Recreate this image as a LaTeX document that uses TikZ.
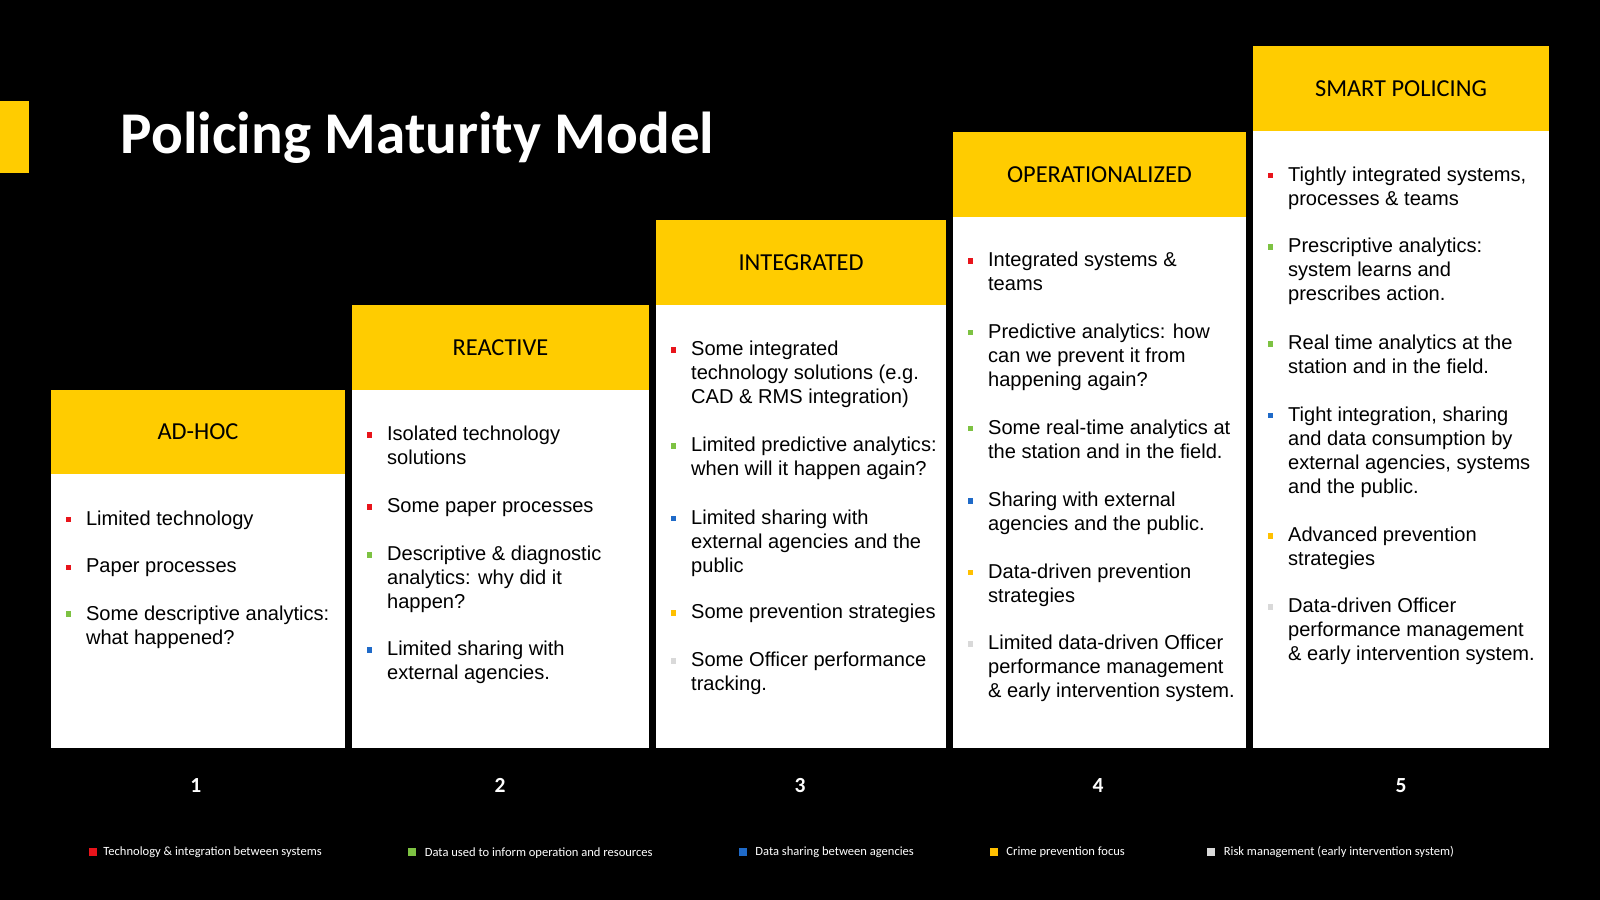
\documentclass[tikz,border=0pt]{standalone}
\usepackage{fontspec}
\setmainfont{Liberation Sans}
\newfontfamily\calib{Carlito}
\definecolor{hdr}{HTML}{FFCC00}
\definecolor{cred}{HTML}{E8141B}
\definecolor{cgreen}{HTML}{7DC242}
\definecolor{cblue}{HTML}{1F6AC8}
\definecolor{corange}{HTML}{FFC000}
\definecolor{cgrey}{HTML}{D9D9D9}
\tikzset{
  hbox/.style={fill=hdr, draw=none, minimum height=1.66cm, inner sep=0, font=\calib\fontsize{13.6}{16}\selectfont, text=black},
  bodybox/.style={fill=white, draw=none},
  bsq/.style={fill=#1, draw=none, minimum size=0.11cm, inner sep=0},
  btxt/.style={anchor=north west, inner sep=0, align=left, font=\fontsize{11.2}{13.4}\selectfont, text=black},
  num/.style={text=white, font=\calib\bfseries\fontsize{12}{14}\selectfont},
  leg/.style={anchor=west, text=white, inner sep=0, font=\calib\fontsize{7}{8}\selectfont},
}
\newcommand\bitem[5]{%
  \node[bsq=#2] (#1s) at (#3+17,#4) {};
  \node[btxt] (#1) at (#3+34,#4-9) {#5};}
\begin{document}
\begin{tikzpicture}[x=0.02cm,y=-0.02cm]
\fill[black] (0,0) rectangle (1568,882);
\useasboundingbox (0,0) rectangle (1568,882);
\fill[hdr] (0,99) rectangle (28,170);
\node[anchor=west, text=white, inner sep=0, font=\calib\bfseries\fontsize{33}{38}\selectfont] (title) at (118,135) {Policing Maturity Model};
% columns
\fill[white] (50,465) rectangle (338,733);
\node[hbox, minimum width=5.76cm] (h1) at (194,423.5) {AD-HOC};
\fill[white] (345,382) rectangle (636,733);
\node[hbox, minimum width=5.82cm] (h2) at (490.5,340.5) {REACTIVE};
\fill[white] (643,299) rectangle (927,733);
\node[hbox, minimum width=5.68cm] (h3) at (785,257.5) {INTEGRATED};
\fill[white] (934,212) rectangle (1221,733);
\node[hbox, minimum width=5.74cm] (h4) at (1077.5,171) {OPERATIONALIZED};
\fill[white] (1228,128) rectangle (1518,733);
\node[hbox, minimum width=5.8cm] (h5) at (1373,86.5) {SMART POLICING};
% col 1
\bitem{a1}{cred}{50}{509}{Limited technology}
\bitem{a2}{cred}{50}{556}{Paper processes}
\bitem{a3}{cgreen}{50}{602}{Some descriptive analytics:\\what happened?}
% col 2
\bitem{b1}{cred}{345}{426}{Isolated technology\\solutions}
\bitem{b2}{cred}{345}{497}{Some paper processes}
\bitem{b3}{cgreen}{345}{544}{Descriptive \& diagnostic\\analytics: why did it\\happen?}
\bitem{b4}{cblue}{345}{637}{Limited sharing with\\external agencies.}
% col 3
\bitem{c1}{cred}{643}{343}{Some integrated\\technology solutions (e.g.\\CAD \& RMS integration)}
\bitem{c2}{cgreen}{643}{437}{Limited predictive analytics:\\when will it happen again?}
\bitem{c3}{cblue}{643}{508}{Limited sharing with\\external agencies and the\\public}
\bitem{c4}{corange}{643}{601}{Some prevention strategies}
\bitem{c5}{cgrey}{643}{648}{Some Officer performance\\tracking.}
% col 4
\bitem{d1}{cred}{934}{256}{Integrated systems \&\\teams}
\bitem{d2}{cgreen}{934}{326}{Predictive analytics: how\\can we prevent it from\\happening again?}
\bitem{d3}{cgreen}{934}{420}{Some real-time analytics at\\the station and in the field.}
\bitem{d4}{cblue}{934}{491}{Sharing with external\\agencies and the public.}
\bitem{d5}{corange}{934}{561}{Data-driven prevention\\strategies}
\bitem{d6}{cgrey}{934}{631}{Limited data-driven Officer\\performance management\\\& early intervention system.}
% col 5
\bitem{e1}{cred}{1228}{172}{Tightly integrated systems,\\processes \& teams}
\bitem{e2}{cgreen}{1228}{242}{Prescriptive analytics:\\system learns and\\prescribes action.}
\bitem{e3}{cgreen}{1228}{337}{Real time analytics at the\\station and in the field.}
\bitem{e4}{cblue}{1228}{407}{Tight integration, sharing\\and data consumption by\\external agencies, systems\\and the public.}
\bitem{e5}{corange}{1228}{525}{Advanced prevention\\strategies}
\bitem{e6}{cgrey}{1228}{595}{Data-driven Officer\\performance management\\\& early intervention system.}
% numbers
\node[num] (n1) at (192,770) {1};
\node[num] (n2) at (490,770) {2};
\node[num] (n3) at (784,770) {3};
\node[num] (n4) at (1076,770) {4};
\node[num] (n5) at (1373,770) {5};
% legend
\node[bsq=cred, minimum size=0.15cm] (l1s) at (91,835) {};
\node[leg] (l1) at (101,835) {Technology \& integration between systems};
\node[bsq=cgreen, minimum size=0.15cm] (l2s) at (404,835) {};
\node[leg] (l2) at (416,836) {Data used to inform operation and resources};
\node[bsq=cblue, minimum size=0.15cm] (l3s) at (728,835) {};
\node[leg] (l3) at (740,835) {Data sharing between agencies};
\node[bsq=corange, minimum size=0.15cm] (l4s) at (974,835) {};
\node[leg] (l4) at (986,835) {Crime prevention focus};
\node[bsq=cgrey, minimum size=0.15cm] (l5s) at (1187,835) {};
\node[leg] (l5) at (1199,835) {Risk management (early intervention system)};
\end{tikzpicture}
\end{document}
